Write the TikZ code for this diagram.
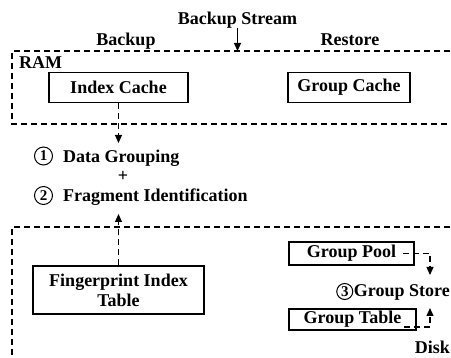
\documentclass[tikz,border=0pt]{standalone}
\usepackage{fontspec}
\setmainfont{Liberation Serif}
\usetikzlibrary{arrows.meta}
\begin{document}
\begin{tikzpicture}[x=1pt,y=-1pt,
  every node/.style={font=\fontsize{18}{20}\selectfont\bfseries, inner sep=0pt},
  box/.style={draw, line width=1.1pt, align=center},
  lbl/.style={anchor=base},
  frame/.style={line width=1.1pt, dash pattern=on 6pt off 4pt},
  conn/.style={line width=1.1pt, dash pattern=on 6pt off 4pt, -{Triangle[length=8pt,width=7pt]}},
  solidarrow/.style={line width=1.1pt, -{Triangle[length=8pt,width=7pt]}},
  num/.style={draw, circle, line width=1pt, minimum size=18pt, inner sep=0pt, font=\fontsize{15}{15}\selectfont\bfseries}]
\clip (0,0) rectangle (451,358);

% frames
\draw[frame] (470,51) -- (12,51) -- (12,124) -- (470,124);
\draw[frame] (470,227) -- (12,227) -- (12,380);

% top labels
\node[lbl] (bs) at (237.5,24.5) {Backup Stream};
\node[lbl] (bk) at (126,45.5) {Backup};
\node[lbl] (rs) at (350,45.5) {Restore};
\node[lbl, anchor=base west] (ram) at (19,68.5) {RAM};
\coordinate (ramtop) at (237.5,51);
\draw[solidarrow] ([yshift=1pt]bs.south) -- (ramtop);

% RAM boxes
\node[box, minimum width=139pt, minimum height=30pt] (ic) at (118.5,87.5) {Index Cache};
\node[box, minimum width=122pt, minimum height=30pt] (gc) at (349,87.5) {Group Cache};

% middle steps
\node[num] (c1) at (43.5,156) {1};
\node[lbl, anchor=base west] (dg) at (63,162.5) {Data Grouping};
\node[lbl] (plus) at (123,182) {+};
\node[num] (c2) at (43.5,195.5) {2};
\node[lbl, anchor=base west] (fi) at (63,201.5) {Fragment Identification};
\coordinate (dgtip) at (118.5,143);
\coordinate (fitip) at (118.5,214);
\draw[conn] (ic.south) -- (dgtip);

% disk boxes
\node[box, minimum width=171pt, minimum height=48pt] (fp) at (118.5,290) {Fingerprint Index\\Table};
\draw[conn] (fp.north) -- (fitip);

\node[box, minimum width=125pt, minimum height=23pt] (gp) at (351.5,253.5) {Group Pool};
\node[box, minimum width=127pt, minimum height=21pt] (gt) at (352.5,319.5) {Group Table};
\node[lbl, anchor=base east] (gs) at (450,296.5) {Group Store};
\node[num, minimum size=16pt, anchor=east] (c3) at ([xshift=-0.5pt]gs.west |- 0,291.5) {3};
\node[lbl, anchor=base east] (disk) at (450,354) {Disk};

\coordinate (gpstart) at (403,253.5);
\coordinate (gptip) at (430,275);
\coordinate (gtstart) at (404,327);
\coordinate (gttip) at (430,308);
\draw[conn] (gpstart) -| (gptip);
\draw[conn] (gtstart) -| (gttip);
\end{tikzpicture}
\end{document}
